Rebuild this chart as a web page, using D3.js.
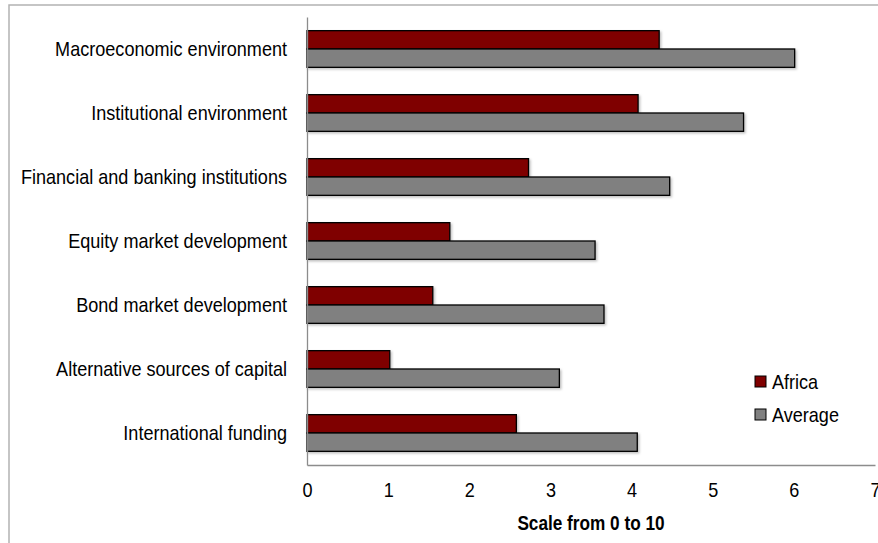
<!DOCTYPE html>
<html>
<head>
<meta charset="utf-8">
<script src="https://cdn.jsdelivr.net/npm/d3@7"></script>
<style>
  html, body { margin: 0; padding: 0; background: #fff; }
  svg { display: block; }
  text { font-family: "Liberation Sans Narrow", "Arial Narrow", "Liberation Sans", Arial, sans-serif; fill: #000; }
</style>
</head>
<body>
<svg id="chart" width="878" height="543"></svg>
<script>
const categories = [
  "Macroeconomic environment",
  "Institutional environment",
  "Financial and banking institutions",
  "Equity market development",
  "Bond market development",
  "Alternative sources of capital",
  "International funding"
];
const series = ["Africa", "Average"];
const africa  = [4.34, 4.08, 2.73, 1.76, 1.55, 1.02, 2.58];
const average = [6.01, 5.38, 4.47, 3.55, 3.66, 3.11, 4.07];
const xTicks = [0, 1, 2, 3, 4, 5, 6, 7];
const axisTitle = "Scale from 0 to 10";

(function () {
const colors = { "Africa": "#7f0000", "Average": "#808080" };
const values = { "Africa": africa, "Average": average };
const condense = 0.86;

function narrow(sel) {
  sel.each(function () {
    const w = this.getComputedTextLength();
    d3.select(this).attr("textLength", w * condense).attr("lengthAdjust", "spacingAndGlyphs");
  });
}

const svg = d3.select("#chart");

const defs = svg.append("defs");
const f = defs.append("filter").attr("id", "shadow").attr("x", "-5%").attr("y", "-20%").attr("width", "110%").attr("height", "160%");
f.append("feDropShadow").attr("dx", 1.5).attr("dy", 1.5).attr("stdDeviation", 1).attr("flood-color", "#000").attr("flood-opacity", 0.25);

// outer frame
svg.append("rect")
  .attr("x", 9).attr("y", 5).attr("width", 900).attr("height", 600)
  .attr("fill", "none").attr("stroke", "#b3b3b3").attr("stroke-width", 1.5);

const pLeft = 307, pRight = 875, pTop = 17, pBottom = 465;

const x = d3.scaleLinear().domain([0, 7]).range([pLeft, pRight]);
const y0 = d3.scaleBand().domain(categories).range([pTop, pBottom]).padding(0);
const y1 = d3.scaleBand().domain(series).range([0, y0.bandwidth()]).paddingInner(0).paddingOuter(0.745);

// bars
const groups = svg.append("g").selectAll("g")
  .data(categories)
  .join("g")
  .attr("transform", d => `translate(0,${y0(d)})`);

groups.selectAll("rect")
  .data((d, i) => series.map(s => ({ s, v: values[s][i] })))
  .join("rect")
  .attr("x", x(0))
  .attr("y", d => y1(d.s))
  .attr("width", d => x(d.v) - x(0))
  .attr("height", y1.bandwidth())
  .attr("fill", d => colors[d.s])
  .attr("stroke", "#000")
  .attr("stroke-width", 1.3)
  .attr("filter", "url(#shadow)");

// x axis
const xAxis = svg.append("g")
  .attr("transform", `translate(0,${pBottom})`)
  .call(d3.axisBottom(x).tickValues(xTicks).tickSize(0).tickPadding(17).tickFormat(d3.format("d")));
xAxis.attr("font-family", null).attr("font-size", null);
xAxis.select(".domain").attr("stroke", "#8c8c8c").attr("stroke-width", 1.3);
xAxis.selectAll("text").attr("font-size", 21).call(narrow);

// y axis
const yAxis = svg.append("g")
  .attr("transform", `translate(${pLeft},0)`)
  .call(d3.axisLeft(y0).tickSize(0).tickPadding(20));
yAxis.attr("font-family", null).attr("font-size", null);
yAxis.select(".domain").attr("stroke", "#8c8c8c").attr("stroke-width", 1.3);
yAxis.selectAll("text").attr("font-size", 21).call(narrow);

// axis title
svg.append("text")
  .attr("x", (pLeft + pRight) / 2)
  .attr("y", 530)
  .attr("text-anchor", "middle")
  .attr("font-weight", "bold")
  .attr("font-size", 20)
  .text(axisTitle)
  .call(narrow);

// legend
const legend = svg.append("g").selectAll("g")
  .data(series)
  .join("g")
  .attr("transform", (d, i) => `translate(755,${376 + i * 33})`);
legend.append("rect")
  .attr("width", 11).attr("height", 11)
  .attr("fill", d => colors[d])
  .attr("stroke", "#000").attr("stroke-width", 1);
legend.append("text")
  .attr("x", 17).attr("y", 6)
  .attr("dy", "0.35em")
  .attr("font-size", 21)
  .text(d => d)
  .call(narrow);
})();
</script>
</body>
</html>
